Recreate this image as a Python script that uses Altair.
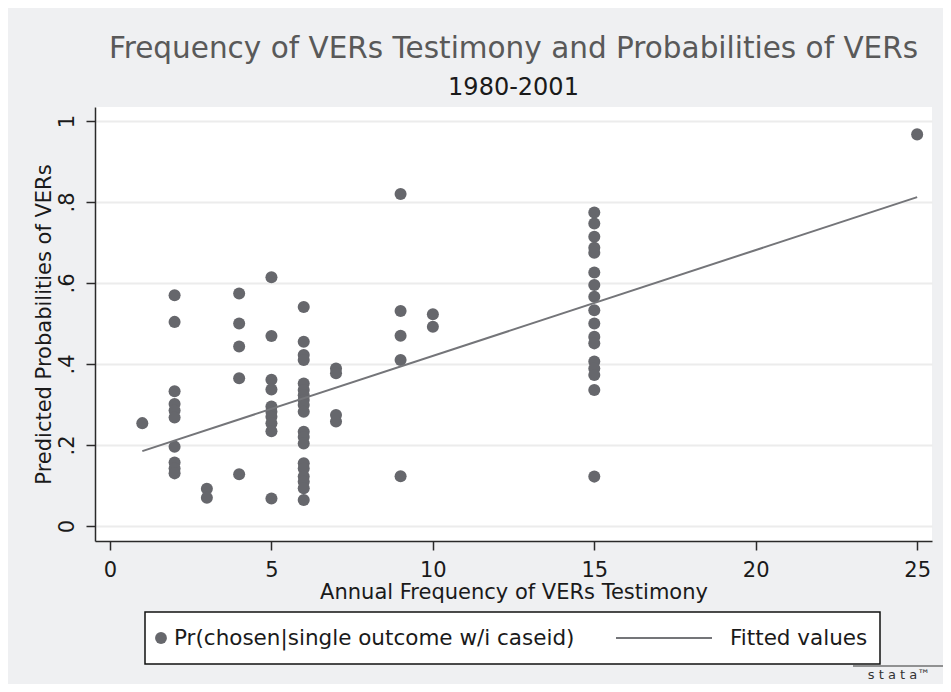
import altair as alt
import pandas as pd

# ---- data ----
freq_groups = [1, 2, 3, 4, 5, 6, 7, 9, 10, 15, 25]
prob_groups = [
    [0.254],
    [0.570, 0.504, 0.333, 0.301, 0.285, 0.268, 0.196, 0.157, 0.142, 0.130],
    [0.092, 0.070],
    [0.574, 0.500, 0.443, 0.365, 0.128],
    [0.614, 0.469, 0.361, 0.337, 0.295, 0.282, 0.270, 0.254, 0.234, 0.068],
    [0.541, 0.455, 0.422, 0.410, 0.352, 0.336, 0.323, 0.311, 0.299, 0.282,
     0.233, 0.220, 0.204, 0.155, 0.142, 0.122, 0.109, 0.093, 0.064],
    [0.389, 0.377, 0.274, 0.258],
    [0.820, 0.531, 0.470, 0.410, 0.123],
    [0.523, 0.492],
    [0.774, 0.747, 0.714, 0.687, 0.675, 0.626, 0.595, 0.566, 0.533, 0.500,
     0.467, 0.451, 0.406, 0.389, 0.373, 0.336, 0.122],
    [0.967],
]
fit_x = [1, 25]
fit_y = [0.185, 0.812]

x_ticks = [0, 5, 10, 15, 20, 25]
y_ticks = [0, 0.2, 0.4, 0.6, 0.8, 1.0]

title_text = "Frequency of VERs Testimony and Probabilities of VERs"
subtitle_text = "1980-2001"
x_title = "Annual Frequency of VERs Testimony"
y_title = "Predicted Probabilities of VERs"
legend_scatter = "Pr(chosen|single outcome w/i caseid)"
legend_line = "Fitted values"

# ---- build tables ----
rows = []
for fx, ps in zip(freq_groups, prob_groups):
    for p in ps:
        rows.append({"freq": fx, "prob": p})
pts = pd.DataFrame(rows)
fit = pd.DataFrame({"freq": fit_x, "prob": fit_y})
one = pd.DataFrame({"k": [0]})

FONT = "DejaVu Sans"
PT_COLOR = "#66676c"
LN_COLOR = "#747579"

xs = alt.Scale(domain=[-0.465, 25.46], nice=False, zero=False)
ys = alt.Scale(domain=[-0.037, 1.0346], nice=False, zero=False)

x_axis = alt.Axis(values=x_ticks, title=x_title, grid=False, tickSize=9,
                  labelPadding=9, labelFontSize=21, titleFontSize=21,
                  titlePadding=1, labelFont=FONT, titleFont=FONT,
                  labelColor="#1a1a1a", titleColor="#1a1a1a",
                  domainColor="#2a2a2a", tickColor="#2a2a2a",
                  domainWidth=1.5, tickWidth=1.5, titleFontWeight="normal")
y_axis = alt.Axis(values=y_ticks, title=y_title, grid=True, gridColor="#ececec",
                  gridWidth=2, tickSize=9, labelPadding=9, labelAngle=270,
                  labelAlign="center", labelBaseline="bottom",
                  labelExpr="datum.value == 0 ? '0' : (datum.value >= 1 ? '1' : '.' + round(datum.value*10))",
                  labelFontSize=21, titleFontSize=21, titlePadding=2,
                  labelFont=FONT, titleFont=FONT,
                  labelColor="#1a1a1a", titleColor="#1a1a1a",
                  domainColor="#2a2a2a", tickColor="#2a2a2a",
                  domainWidth=1.5, tickWidth=1.5, titleFontWeight="normal")

scatter = alt.Chart(pts).mark_circle(size=145, opacity=1, color=PT_COLOR).encode(
    x=alt.X("freq:Q", scale=xs, axis=x_axis),
    y=alt.Y("prob:Q", scale=ys, axis=y_axis),
)
line = alt.Chart(fit).mark_line(color=LN_COLOR, strokeWidth=2).encode(
    x=alt.X("freq:Q", scale=xs),
    y=alt.Y("prob:Q", scale=ys),
)

# ---- legend (drawn in pixel space below plot) ----
leg_box = alt.Chart(one).mark_rect(fill="white", stroke="#111111", strokeWidth=1.5).encode(
    x=alt.value(50), x2=alt.value(785), y=alt.value(505), y2=alt.value(557))
leg_pt = alt.Chart(one).mark_circle(size=140, opacity=1, color=PT_COLOR).encode(
    x=alt.value(66), y=alt.value(531))
leg_txt1 = alt.Chart(one).mark_text(align="left", baseline="middle", font=FONT,
                                     fontSize=21.5, color="#1a1a1a").encode(
    x=alt.value(79), y=alt.value(532), text=alt.value(legend_scatter))
leg_ln = alt.Chart(one).mark_rule(color=LN_COLOR, strokeWidth=2).encode(
    x=alt.value(521), x2=alt.value(617), y=alt.value(531))
leg_txt2 = alt.Chart(one).mark_text(align="left", baseline="middle", font=FONT,
                                     fontSize=21.5, color="#1a1a1a").encode(
    x=alt.value(635), y=alt.value(532), text=alt.value(legend_line))

logo_rule = alt.Chart(one).mark_rule(color="#333333", strokeWidth=1.2).encode(
    x=alt.value(758), x2=alt.value(850), y=alt.value(559))
logo_txt = alt.Chart(one).mark_text(align="center", baseline="middle", font=FONT,
                                     fontSize=13, color="#333333").encode(
    x=alt.value(804), y=alt.value(568), text=alt.value("s t a t a\u2122"))

chart = alt.layer(scatter, line, leg_box, leg_pt, leg_txt1, leg_ln, leg_txt2,
                  logo_rule, logo_txt).properties(
    width=837, height=434,
    autosize=alt.AutoSizeParams(type="none"),
    padding={"left": 87, "top": 99, "right": 11, "bottom": 143},
    background="#eff0f2",
    title=alt.TitleParams(text=title_text, subtitle=subtitle_text, font=FONT,
                          fontSize=29.5, fontWeight="normal", color="#595959",
                          subtitleFont=FONT, subtitleFontSize=24,
                          subtitleColor="#1a1a1a", subtitlePadding=12,
                          anchor="middle", offset=6),
).configure_view(fill="white", stroke=None)

chart.save("out.html", embed_options={"renderer": "svg", "actions": False})
